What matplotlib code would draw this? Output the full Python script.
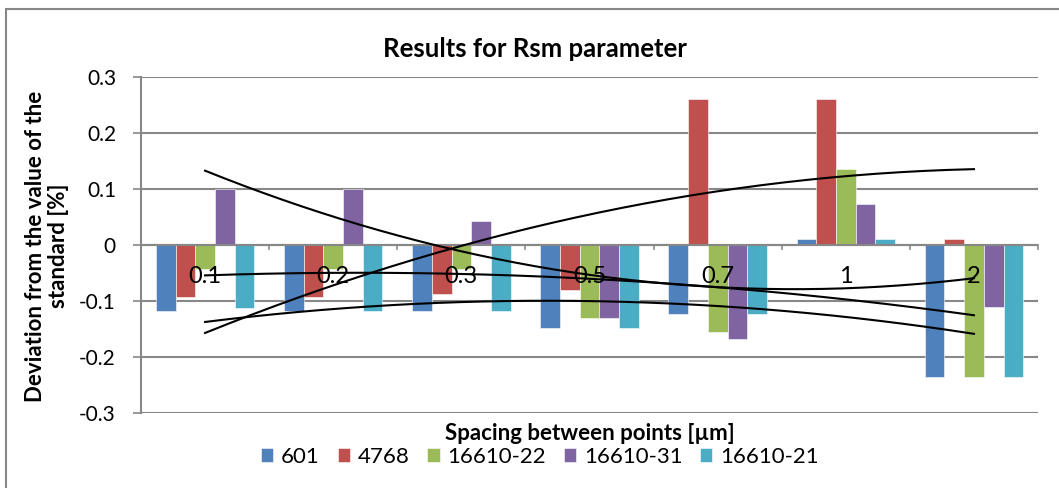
import numpy as np
import matplotlib
matplotlib.use("Agg")
import matplotlib.pyplot as plt
from matplotlib.patches import Rectangle

# ================= data =================
categories = ["0.1", "0.2", "0.3", "0.5", "0.7", "1", "2"]
series_names = ["601", "4768", "16610-22", "16610-31", "16610-21"]
s601 = [-0.118, -0.118, -0.118, -0.148, -0.124, 0.011, -0.235]
s4768 = [-0.093, -0.093, -0.087, -0.080, 0.260, 0.260, 0.011]
s16610_22 = [-0.043, -0.043, -0.043, -0.130, -0.155, 0.135, -0.235]
s16610_31 = [0.100, 0.100, 0.042, -0.130, -0.167, 0.073, -0.111]
s16610_21 = [-0.112, -0.118, -0.118, -0.148, -0.124, 0.011, -0.235]
colors = ["#4F81BD", "#C0504D", "#9BBB59", "#8064A2", "#4BACC6"]

all_series = [s601, s4768, s16610_22, s16610_31, s16610_21]
trend_series = [s601, s4768, s16610_22, s16610_31]  # 16610-21 has no trendline

plt.rcParams['font.family'] = ['Lato', 'DejaVu Sans']
grey = "#878787"

fig = plt.figure(figsize=(10.59, 4.88), dpi=100)
# outer chart border (cropped on right and bottom)
fig.patches.append(Rectangle((6 / 1059, -0.1), 1.2, (488 - 9) / 488 + 0.1,
                             transform=fig.transFigure, fill=False,
                             edgecolor=grey, linewidth=1.5))

ax = fig.add_axes([141 / 1059, 75 / 488, (1038 - 141) / 1059, (413 - 77) / 488])

x = np.arange(1, len(categories) + 1)
n = len(all_series)
bw = 1 / (n + 1.5)
for i, (vals, col, name) in enumerate(zip(all_series, colors, series_names)):
    offs = (i - (n - 1) / 2) * bw
    ax.bar(x + offs, vals, width=bw, color=col, edgecolor="white",
           linewidth=0.4, label=name, zorder=2)

# polynomial trendlines (order 2), as Excel draws them
xs = np.linspace(1, len(categories), 200)
for vals in trend_series:
    coef = np.polyfit(x, vals, 2)
    ax.plot(xs, np.polyval(coef, xs), color="black", linewidth=1.5, zorder=4)

ax.set_xlim(0.5, len(categories) + 0.5)
ax.set_ylim(-0.3, 0.3)
ax.set_yticks([-0.3, -0.2, -0.1, 0, 0.1, 0.2, 0.3])
ax.set_yticklabels(["-0.3", "-0.2", "-0.1", "0", "0.1", "0.2", "0.3"], fontsize=15)
ax.yaxis.grid(True, color=grey, linewidth=1.5, zorder=0)
ax.set_axisbelow(True)
ax.tick_params(axis="y", length=6, width=1.2, color=grey, pad=12)

for sp in ["top", "right", "bottom"]:
    ax.spines[sp].set_visible(False)
ax.spines["left"].set_color(grey)
ax.spines["left"].set_linewidth(1.5)

# category axis at zero
ax.axhline(0, color=grey, linewidth=1.5, zorder=3)
ax.set_xticks([])
for b in np.arange(0.5, len(categories) + 1, 1):
    ax.plot([b, b], [0, -0.008], color=grey, linewidth=1.2, zorder=3, clip_on=False)
for xi, lab in zip(x, categories):
    ax.text(xi, -0.056, lab, ha="center", va="center", fontsize=17, zorder=5)

fig.text(535 / 1059, 1 - 49 / 488, "Results for Rsm parameter", ha="center",
         va="center", fontsize=18.5, fontweight="bold")
fig.text(47 / 1059, 1 - 246 / 488, "Deviation from the value of the\nstandard [%]",
         rotation=90, ha="center", va="center", fontsize=16, fontweight="bold",
         linespacing=1.1)
fig.text(590 / 1059, 1 - 433 / 488, "Spacing between points [µm]", ha="center",
         va="center", fontsize=16, fontweight="bold")

fig.legend(loc="center", bbox_to_anchor=(540 / 1059, 1 - 457 / 488), ncol=5,
           frameon=False, fontsize=16, handlelength=0.55, handleheight=0.55,
           handletextpad=0.35, columnspacing=0.8)

fig.savefig("out.png", dpi=100)
